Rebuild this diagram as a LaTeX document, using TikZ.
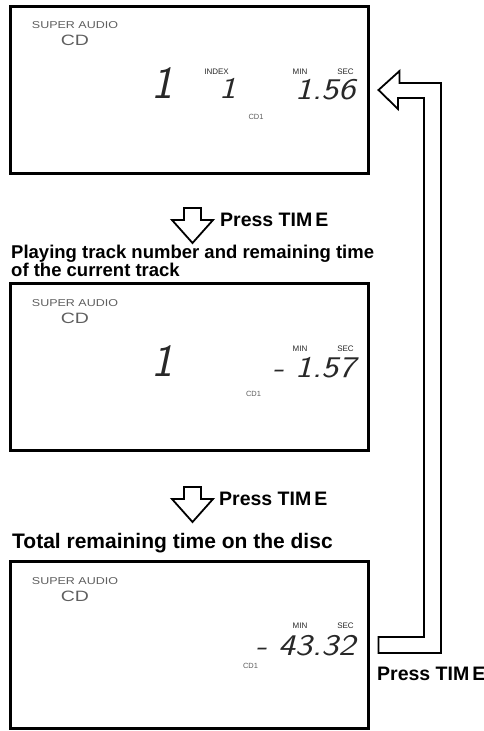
\documentclass[tikz,border=0pt]{standalone}
\usepackage{fontspec}
\usepackage{graphicx}
\setmainfont{Liberation Sans}
\usetikzlibrary{calc}
\definecolor{lcdgray}{RGB}{95,95,95}
\definecolor{lcdink}{RGB}{40,40,40}
\newcommand\lcdnum[1]{{\fontsize{30}{30}\selectfont\sffamily\slshape\scalebox{1.2}[1]{#1}}}
\newcommand\lcdbig[1]{{\fontsize{46}{46}\selectfont\sffamily\slshape #1}}
\begin{document}
\begin{tikzpicture}[x=1pt,y=-1pt,
  lcd/.style={draw,line width=3pt,rectangle,minimum width=358pt,minimum height=167pt,inner sep=0pt},
  caption/.style={font=\bfseries\fontsize{18.5}{18.5}\selectfont,anchor=base west,inner sep=0pt},
  bigcaption/.style={font=\bfseries\fontsize{21}{21}\selectfont,anchor=base west,inner sep=0pt},
  press/.style={font=\bfseries\fontsize{19.5}{19.5}\selectfont,anchor=base west,inner sep=0pt},
  superaudio/.style={font=\fontsize{10}{10}\selectfont,text=lcdgray,inner sep=0pt},
  cdlogo/.style={font=\fontsize{15}{15}\selectfont,text=lcdgray,inner sep=0pt},
  tiny/.style={font=\fontsize{8}{8}\selectfont,text=lcdink,inner sep=0pt},
  cdone/.style={font=\fontsize{7.5}{7.5}\selectfont,text=lcdgray,inner sep=0pt},
  digits/.style={text=lcdink,inner sep=0pt,anchor=base east},
  bigdigit/.style={text=lcdink,inner sep=0pt,anchor=base},
  hollow/.style={draw,line width=1.8pt,fill=white,line join=miter}]
\useasboundingbox (0,0) rectangle (484,731);

% display panels
\node[lcd] (d1) at (189,89.5) {};
\node[lcd] (d2) at (189,367) {};
\node[lcd] (d3) at (189,645) {};

% panel 1
\begin{scope}[shift={(d1.north west)}]
  \node[superaudio] (sa1) at (66.5,21) {\scalebox{1.25}[1]{SUPER AUDIO}};
  \node[cdlogo] (cd1) at (66.5,36) {\scalebox{1.3}[1]{CD}};
  \node[bigdigit] (tr1) at (154,94) {\lcdbig{1}};
  \node[tiny] (ix1) at (208,67) {INDEX};
  \node[bigdigit] (in1) at (219,94) {\lcdnum{1}};
  \node[tiny] (mn1) at (291.5,67) {MIN};
  \node[tiny] (sc1) at (337,67) {SEC};
  \node[digits] (tm1) at (347,95) {\lcdnum{1.56}};
  \node[cdone] (c11) at (247.5,112) {CD1};
\end{scope}

% panel 2
\begin{scope}[shift={(d2.north west)}]
  \node[superaudio] (sa2) at (66.5,21) {\scalebox{1.25}[1]{SUPER AUDIO}};
  \node[cdlogo] (cd2) at (66.5,36) {\scalebox{1.3}[1]{CD}};
  \node[bigdigit] (tr2) at (154,94) {\lcdbig{1}};
  \node[tiny] (mn2) at (291.5,67) {MIN};
  \node[tiny] (sc2) at (337,67) {SEC};
  \node[digits] (tm2) at (347,95) {\lcdnum{- 1.57}};
  \node[cdone] (c12) at (245,112) {CD1};
\end{scope}

% panel 3
\begin{scope}[shift={(d3.north west)}]
  \node[superaudio] (sa3) at (66.5,21) {\scalebox{1.25}[1]{SUPER AUDIO}};
  \node[cdlogo] (cd3) at (66.5,36) {\scalebox{1.3}[1]{CD}};
  \node[tiny] (mn3) at (291.5,66) {MIN};
  \node[tiny] (sc3) at (337,66) {SEC};
  \node[digits] (tm3) at (347,95) {\lcdnum{- 43.32}};
  \node[cdone] (c13) at (242,106) {CD1};
\end{scope}

% captions
\node[press] (p1) at (220,226) {Press TIM\kern3pt E};
\node[caption] (cap2a) at (11,258) {Playing track number and remaining time};
\node[caption] (cap2b) at (11,276.5) {of the current track};
\node[press] (p2) at (219,505) {Press TIM\kern3pt E};
\node[bigcaption] (cap3) at (12,548.5) {Total remaining time on the disc};
\node[press] (p3) at (377,680) {Press TIM\kern3pt E};

% down arrows
\draw[hollow] (184,208) -- (201,208) -- (201,220) -- (213,220) -- (192.5,243)
  -- (172,220) -- (184,220) -- cycle;
\draw[hollow] (184,487) -- (201,487) -- (201,499) -- (213,499) -- (192.5,522)
  -- (172,499) -- (184,499) -- cycle;

% return arrow from panel 3 back to panel 1
\coordinate (tip) at ($(d1.east)+(9,0.5)$);
\coordinate (tail) at ($(d3.east)+(9,0)$);
\draw[hollow,fill=none] (tip) -- ++(21,-19) -- ++(0,12) -- (441,83) -- (441,653)
  -- (tail |- 0,653) -- (tail |- 0,637) -- (424,637) -- (424,98) -- (398,98)
  -- ++(0,11) -- cycle;
\end{tikzpicture}
\end{document}
